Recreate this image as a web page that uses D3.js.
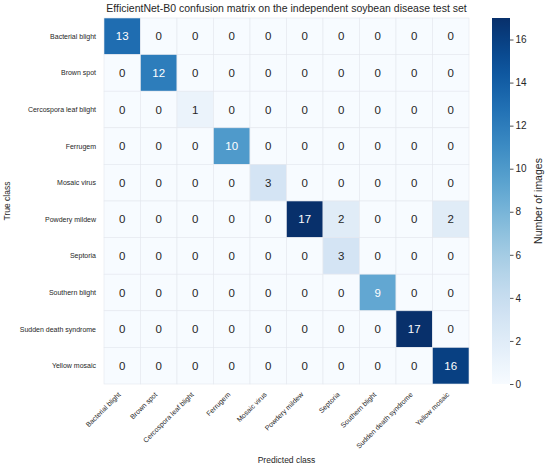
<!DOCTYPE html>
<html>
<head>
<meta charset="utf-8">
<script src="https://cdn.jsdelivr.net/npm/d3@7"></script>
<style>
  body { margin: 0; background: #fff; }
  text { font-family: "Liberation Sans", Arial, sans-serif; fill: #262626; }
</style>
</head>
<body>
<svg id="chart" width="550" height="472"></svg>
<script>
let classes = ['Bacterial blight', 'Brown spot', 'Cercospora leaf blight', 'Ferrugem',
  'Mosaic virus', 'Powdery mildew', 'Septoria', 'Southern blight',
  'Sudden death syndrome', 'Yellow mosaic'];

// rows = true class, columns = predicted class
let matrix = [
  [13, 0, 0, 0, 0, 0, 0, 0, 0, 0],
  [0, 12, 0, 0, 0, 0, 0, 0, 0, 0],
  [0, 0, 1, 0, 0, 0, 0, 0, 0, 0],
  [0, 0, 0, 10, 0, 0, 0, 0, 0, 0],
  [0, 0, 0, 0, 3, 0, 0, 0, 0, 0],
  [0, 0, 0, 0, 0, 17, 2, 0, 0, 2],
  [0, 0, 0, 0, 0, 0, 3, 0, 0, 0],
  [0, 0, 0, 0, 0, 0, 0, 9, 0, 0],
  [0, 0, 0, 0, 0, 0, 0, 0, 17, 0],
  [0, 0, 0, 0, 0, 0, 0, 0, 0, 16]
];

let colorTicks = [0, 2, 4, 6, 8, 10, 12, 14, 16];
let vmax = 17;

let svg = d3.select('#chart');

let mLeft = 104, mTop = 18, mRight = 469, mBottom = 384;

let x = d3.scaleBand().domain(classes).range([mLeft, mRight]);
let y = d3.scaleBand().domain(classes).range([mTop, mBottom]);
let color = d3.scaleSequential(d3.interpolateBlues).domain([0, vmax]);

let cells = [];
matrix.forEach((row, i) => row.forEach((v, j) => cells.push({t: classes[i], p: classes[j], v: v})));

svg.append('g').selectAll('rect')
  .data(cells)
  .join('rect')
  .attr('x', d => x(d.p))
  .attr('y', d => y(d.t))
  .attr('width', x.bandwidth())
  .attr('height', y.bandwidth())
  .attr('fill', d => color(d.v))
  .attr('stroke', '#e4e8ee')
  .attr('stroke-width', 0.6);

function textColor(v) {
  let c = d3.rgb(color(v));
  let lum = [c.r, c.g, c.b].map(u => {
    u /= 255;
    return u <= 0.03928 ? u / 12.92 : Math.pow((u + 0.055) / 1.055, 2.4);
  });
  let l = 0.2126 * lum[0] + 0.7152 * lum[1] + 0.0722 * lum[2];
  return l > 0.408 ? '#262626' : '#ffffff';
}

svg.append('g').selectAll('text')
  .data(cells)
  .join('text')
  .attr('x', d => x(d.p) + x.bandwidth() / 2)
  .attr('y', d => y(d.t) + y.bandwidth() / 2)
  .attr('text-anchor', 'middle')
  .attr('dominant-baseline', 'central')
  .style('font-size', '11.5px')
  .style('fill', d => textColor(d.v))
  .text(d => d.v);

// y tick labels
svg.append('g').selectAll('text')
  .data(classes)
  .join('text')
  .attr('x', mLeft - 8)
  .attr('y', d => y(d) + y.bandwidth() / 2)
  .attr('text-anchor', 'end')
  .attr('dominant-baseline', 'central')
  .style('font-size', '7px')
  .text(d => d);

// x tick labels, rotated
svg.append('g').selectAll('text')
  .data(classes)
  .join('text')
  .attr('transform', d => `translate(${x(d) + x.bandwidth() / 2 - 1},${mBottom + 11}) rotate(-45)`)
  .attr('text-anchor', 'end')
  .style('font-size', '7px')
  .text(d => d);

// title and axis labels
svg.append('text')
  .attr('x', (mLeft + mRight) / 2)
  .attr('y', 12)
  .attr('text-anchor', 'middle')
  .style('font-size', '10.5px')
  .text('EfficientNet-B0 confusion matrix on the independent soybean disease test set');

svg.append('text')
  .attr('x', (mLeft + mRight) / 2)
  .attr('y', 463)
  .attr('text-anchor', 'middle')
  .style('font-size', '8.5px')
  .text('Predicted class');

svg.append('text')
  .attr('transform', `translate(10,${(mTop + mBottom) / 2}) rotate(-90)`)
  .attr('text-anchor', 'middle')
  .style('font-size', '8.5px')
  .text('True class');

// colorbar
let cbX = 492, cbW = 18;
let cy = d3.scaleLinear().domain([0, vmax]).range([mBottom, mTop]);

let defs = svg.append('defs');
let grad = defs.append('linearGradient')
  .attr('id', 'cbgrad')
  .attr('x1', 0).attr('y1', 1).attr('x2', 0).attr('y2', 0);
d3.range(0, 1.0001, 0.05).forEach(t => {
  grad.append('stop').attr('offset', t).attr('stop-color', d3.interpolateBlues(t));
});

svg.append('rect')
  .attr('x', cbX)
  .attr('y', mTop)
  .attr('width', cbW)
  .attr('height', mBottom - mTop)
  .attr('fill', 'url(#cbgrad)');

let cbAxis = svg.append('g')
  .attr('transform', `translate(${cbX + cbW},0)`)
  .call(d3.axisRight(cy).tickValues(colorTicks).tickSize(3.5).tickPadding(2));
cbAxis.select('.domain').remove();
cbAxis.selectAll('line').attr('stroke', '#262626').attr('stroke-width', 0.8);
cbAxis.selectAll('text')
  .style('font-size', '10px')
  .style('font-family', '"Liberation Sans", Arial, sans-serif')
  .style('fill', '#262626');

svg.append('text')
  .attr('transform', `translate(542,${(mTop + mBottom) / 2}) rotate(-90)`)
  .attr('text-anchor', 'middle')
  .style('font-size', '10.5px')
  .text('Number of images');
</script>
</body>
</html>
